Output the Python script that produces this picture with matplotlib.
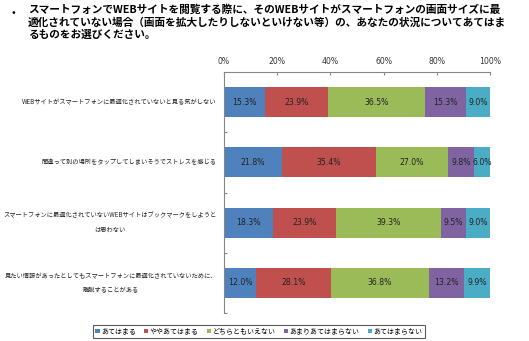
import matplotlib.pyplot as plt
import numpy as np

plt.rcParams['font.family'] = ['Noto Sans CJK JP', 'DejaVu Sans']

title = ("スマートフォンでWEBサイトを閲覧する際に、そのWEBサイトがスマートフォンの画面サイズに最\n"
         "適化されていない場合（画面を拡大したりしないといけない等）の、あなたの状況についてあてはま\n"
         "るものをお選びください。")

categories = [
    "WEBサイトがスマートフォンに最適化されていないと見る気がしない",
    "間違って別の場所をタップしてしまいそうでストレスを感じる",
    "スマートフォンに最適化されていないWEBサイトはブックマークをしようと\nは思わない",
    "見たい情報があったとしてもスマートフォンに最適化されていないために、\n離脱することがある",
]
series_names = ["あてはまる", "ややあてはまる", "どちらともいえない", "あまりあてはまらない", "あてはまらない"]
atehamaru = [15.3, 21.8, 18.3, 12.0]
yaya = [23.9, 35.4, 23.9, 28.1]
dochira = [36.5, 27.0, 39.3, 36.8]
amari = [15.3, 9.8, 9.5, 13.2]
atehamaranai = [9.0, 6.0, 9.0, 9.9]
colors = ["#4F81BD", "#C0504D", "#9BBB59", "#8064A2", "#4BACC6"]
x_ticks = [0, 20, 40, 60, 80, 100]

fig = plt.figure(figsize=(5.29, 3.41), dpi=100)
ax = fig.add_axes([224 / 529, 1 - 313 / 341, 266 / 529, 241 / 341])

y = np.arange(len(categories))
left = np.zeros(len(categories))
for name, vals, c in zip(series_names,
                         [atehamaru, yaya, dochira, amari, atehamaranai], colors):
    vals = np.array(vals)
    ax.barh(y, vals, left=left, height=0.5, color=c, label=name)
    for yi, l, v in zip(y, left, vals):
        ax.text(l + v / 2, yi, f"{v:.1f}%", ha='center', va='center',
                fontsize=5.6, color='#222222', family='DejaVu Sans')
    left += vals

ax.set_xlim(0, 100)
ax.set_ylim(3.5, -0.5)
ax.xaxis.tick_top()
ax.set_xticks(x_ticks)
ax.set_xticklabels([f"{t}%" for t in x_ticks], fontsize=5.6, color='#333333',
                   family='DejaVu Sans')
ax.tick_params(axis='x', direction='in', length=2, color='#868686', pad=4)
ax.set_yticks([0.5, 1.5, 2.5, 3.5])
ax.set_yticklabels([])
ax.tick_params(axis='y', direction='in', length=2, color='#868686')
for s in ['right', 'bottom']:
    ax.spines[s].set_visible(False)
for s in ['top', 'left']:
    ax.spines[s].set_color('#868686')
    ax.spines[s].set_linewidth(0.8)

for yi, cat in zip(y, categories):
    ax.text(-0.027, yi, cat, transform=ax.get_yaxis_transform(), ha='right',
            va='center', multialignment='center', fontsize=4.5, color='#222222',
            linespacing=2.0)

fig.text(12 / 529, 1 - 13 / 341, "•", fontsize=8, va='center', ha='left')
fig.text(28 / 529, 1 - 4 / 341, title, fontsize=7.7, fontweight='bold',
         va='top', ha='left', linespacing=1.3)

leg = fig.legend(loc='center', bbox_to_anchor=(259 / 529, 1 - 331.5 / 341),
                 ncol=5, fontsize=5, frameon=True, fancybox=False,
                 handlelength=0.6, handleheight=0.6, handletextpad=0.2,
                 columnspacing=1.2, borderpad=0.35)
leg.get_frame().set_edgecolor('#333333')
leg.get_frame().set_linewidth(0.8)

fig.savefig("out.png", dpi=100)
